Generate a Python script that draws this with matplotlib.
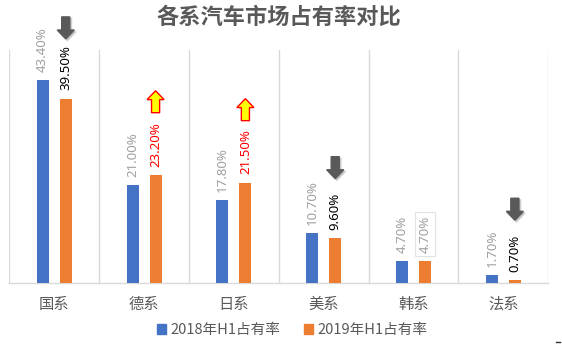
import numpy as np
import matplotlib
matplotlib.use('Agg')
import matplotlib.pyplot as plt
from matplotlib.patches import Polygon, Rectangle

plt.rcParams['font.family'] = ['Noto Sans CJK SC', 'DejaVu Sans']

categories = ['国系', '德系', '日系', '美系', '韩系', '法系']
share_2018 = [43.4, 21.0, 17.8, 10.7, 4.7, 1.7]
share_2019 = [39.5, 23.2, 21.5, 9.6, 4.7, 0.7]
# trend of each 2019 value: 1 up, -1 down, 0 flat
trend = [-1, 1, 1, -1, 0, -1]
series_names = ['2018年H1占有率', '2019年H1占有率']

BLUE = '#4472C4'
ORANGE = '#ED7D31'
GRID = '#D9D9D9'
TEXT = '#595959'


def arrow(ax, xc, y0, up, face, edge, shadow=False):
    # block arrow in data units: 1 category = 90 px, 1 % = 4.675 px
    hw, sw = 0.095, 0.045
    h, hl = 4.7, 1.9
    if up:
        pts = [(xc - sw, y0), (xc + sw, y0), (xc + sw, y0 + h - hl), (xc + hw, y0 + h - hl),
               (xc, y0 + h), (xc - hw, y0 + h - hl), (xc - sw, y0 + h - hl)]
    else:
        pts = [(xc - sw, y0 + h), (xc + sw, y0 + h), (xc + sw, y0 + hl), (xc + hw, y0 + hl),
               (xc, y0), (xc - hw, y0 + hl), (xc - sw, y0 + hl)]
    if shadow:
        sp = [(px + 0.018, py - 0.35) for px, py in pts]
        ax.add_patch(Polygon(sp, closed=True, facecolor='#A0A0A0', edgecolor='#C8C8C8',
                             lw=1.2, alpha=0.7, clip_on=False, zorder=4))
    ax.add_patch(Polygon(pts, closed=True, facecolor=face, edgecolor=edge, lw=1.0,
                         clip_on=False, zorder=5))


fig = plt.figure(figsize=(5.62, 3.46), dpi=100)
ax = fig.add_axes([0.0166, 0.1812, 0.959, 0.6754])

x = np.arange(len(categories))
w = 0.133
off = 0.128
ax.bar(x - off, share_2018, w, color=BLUE, zorder=3)
ax.bar(x + off, share_2019, w, color=ORANGE, zorder=3)

ax.set_xlim(-0.5, len(categories) - 0.5)
ax.set_ylim(0, 50)
for b in np.arange(-0.5, len(categories), 1.0):
    ax.axvline(b, color=GRID, lw=1, zorder=1)
for s in ['top', 'left', 'right']:
    ax.spines[s].set_visible(False)
ax.spines['bottom'].set_color(GRID)
ax.spines['bottom'].set_linewidth(1)
ax.set_yticks([])
ax.set_xticks(x)
ax.set_xticklabels(categories, fontsize=11, color=TEXT)
ax.tick_params(axis='x', length=0, pad=9)

label_font = ['Noto Sans', 'DejaVu Sans']
for i, v in enumerate(share_2018):
    ax.annotate(f'{v:.2f}%', (x[i] - off, v), xytext=(0, 6), textcoords='offset points',
                rotation=90, ha='center', va='bottom', fontsize=9.5, color='#A0A0A0',
                family=label_font, zorder=6)
for i, v in enumerate(share_2019):
    if trend[i] > 0:
        c = '#FF0000'
    elif trend[i] < 0:
        c = '#000000'
    else:
        c = '#A0A0A0'
    box = None
    if trend[i] == 0:
        box = dict(boxstyle='square,pad=0.25', facecolor='white', edgecolor='#E3E3E3', lw=0.8)
    ax.annotate(f'{v:.2f}%', (x[i] + off, v), xytext=(0, 6), textcoords='offset points',
                rotation=90, ha='center', va='bottom', fontsize=9.5, color=c,
                family=label_font, bbox=box, zorder=6)
    if trend[i] > 0:
        arrow(ax, x[i] + off, v + 13.3, True, '#FFFF00', '#FF0000')
    elif trend[i] < 0:
        arrow(ax, x[i] + off, v + 12.8, False, '#595959', '#595959', shadow=True)

fig.text(0.496, 0.951, '各系汽车市场占有率对比', ha='center', va='center',
         fontsize=16, fontweight='bold', color=TEXT)

handles = [Rectangle((0, 0), 1, 1, color=BLUE), Rectangle((0, 0), 1, 1, color=ORANGE)]
fig.legend(handles, series_names, loc='center', bbox_to_anchor=(0.52, 0.046), ncol=2,
           frameon=False, fontsize=10.5, labelcolor=TEXT, handlelength=0.6,
           handleheight=0.6, handletextpad=0.35, columnspacing=1.6)

fig.add_artist(plt.Line2D([0.99, 0.997], [0.012, 0.012], color='#333333', lw=1))

fig.savefig('out.png', dpi=100)
